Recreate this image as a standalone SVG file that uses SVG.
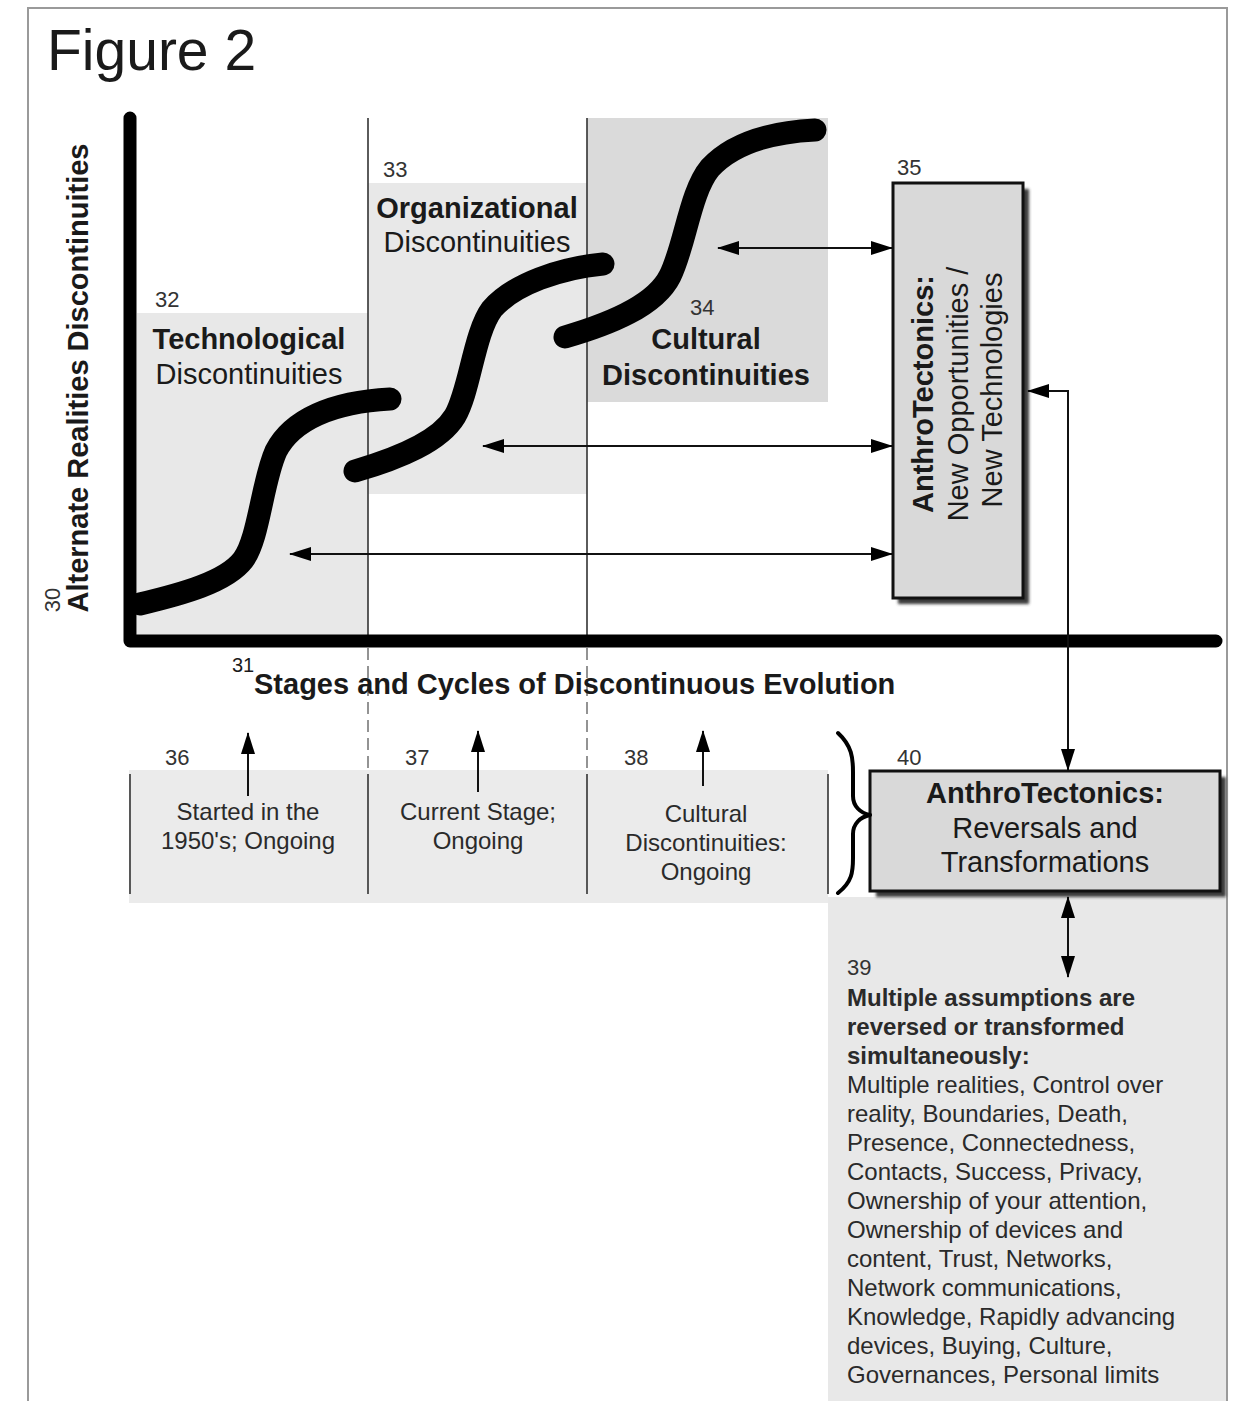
<svg xmlns="http://www.w3.org/2000/svg" width="1234" height="1401" viewBox="0 0 1234 1401">
  <style>
    text { font-family: "Liberation Sans", Arial, sans-serif; fill: #1a1a1a; }
    .num { font-size: 22px; fill: #333; }
    .big { font-size: 29px; }
    .bold { font-weight: bold; }
    .small { font-size: 24px; fill: #2a2a2a; }
    .mid { text-anchor: middle; }
    .thin { stroke: #222; stroke-width: 2; fill: none; }
    .divider { stroke: #333; stroke-width: 1.6; fill: none; }
    .dash { stroke: #666; stroke-width: 1.4; stroke-dasharray: 12 6; fill: none; }
    .curve { stroke: #000; stroke-width: 23; fill: none; stroke-linecap: round; stroke-linejoin: round; }
    .box { fill: #d9d9d9; stroke: #111; stroke-width: 3; }
    .shadow { fill: #3a3a3a; filter: url(#soft); }
    .conn { stroke: #111; stroke-width: 2; fill: none; }
  </style>
  <defs>
    <marker id="head" viewBox="0 0 22 14" refX="21" refY="7" markerWidth="22" markerHeight="14" markerUnits="userSpaceOnUse" orient="auto-start-reverse">
      <path d="M0,0 L22,7 L0,14 Z" fill="#000"/>
    </marker>
    <filter id="soft" x="-10%" y="-10%" width="120%" height="120%">
      <feGaussianBlur stdDeviation="1.5"/>
    </filter>
  </defs>

  <!-- page frame -->
  <rect x="0" y="0" width="1234" height="1401" fill="#fff"/>
  <path d="M28,1401 V8 H1227 V1401" fill="none" stroke="#9a9a9a" stroke-width="2"/>

  <text x="47" y="70" style="font-size:57px" fill="#111">Figure 2</text>

  <!-- shaded stage bands -->
  <g id="band-32">
    <rect x="137" y="313" width="231" height="328" fill="#e8e8e8"/>
    <text class="num" x="155" y="307">32</text>
    <text class="big bold mid" x="249" y="349">Technological</text>
    <text class="big mid" x="249" y="384" fill="#333">Discontinuities</text>
  </g>
  <g id="band-33">
    <rect x="368" y="183" width="219" height="311" fill="#e8e8e8"/>
    <text class="num" x="383" y="177">33</text>
    <text class="big bold mid" x="477" y="218">Organizational</text>
    <text class="big mid" x="477" y="252" fill="#333">Discontinuities</text>
  </g>
  <g id="band-34">
    <rect x="587" y="118" width="241" height="284" fill="#dadada"/>
    <text class="num" x="690" y="315">34</text>
    <text class="big bold mid" x="706" y="349">Cultural</text>
    <text class="big bold mid" x="706" y="385">Discontinuities</text>
  </g>

  <!-- stage dividers -->
  <g id="dividers">
    <line class="divider" x1="368" y1="118" x2="368" y2="641"/>
    <line class="divider" x1="587" y1="118" x2="587" y2="641"/>
    <line class="dash" x1="368" y1="648" x2="368" y2="770"/>
    <line class="dash" x1="587" y1="648" x2="587" y2="770"/>
  </g>

  <!-- S-curves -->
  <g id="curves">
    <path class="curve" d="M140,604 C182,594 226,582 243,560 C259,539 262,482 276,451 C292,420 332,402 390,399"/>
    <path class="curve" d="M355,471 C400,458 440,441 455,416 C470,390 474,333 492,309 C514,284 560,268 603,264"/>
    <path class="curve" d="M565,337 C610,324 655,306 670,276 C685,246 690,192 710,168 C734,142 775,132 815,130"/>
  </g>

  <!-- axes -->
  <g id="axes">
    <path d="M130,118 V641 H1216" fill="none" stroke="#000" stroke-width="13" stroke-linecap="round" stroke-linejoin="round"/>
    <text class="big bold mid" transform="translate(88,378) rotate(-90)">Alternate Realities Discontinuities</text>
    <text class="num mid" transform="translate(60,600) rotate(-90)">30</text>
    <text x="232" y="672" style="font-size:20px" fill="#333">31</text>
    <text class="big bold" x="254" y="694">Stages and Cycles of Discontinuous Evolution</text>
  </g>

  <!-- node 35 -->
  <g id="node-35">
    <rect class="shadow" x="898" y="189" width="131" height="415"/>
    <rect class="box" x="893" y="183" width="130" height="415"/>
    <text class="num" x="897" y="175">35</text>
    <text class="big mid" transform="translate(933,390) rotate(-90)">
      <tspan class="bold" x="0" dy="0">AnthroTectonics:</tspan>
      <tspan x="0" dy="34.5">New Opportunities /</tspan>
      <tspan x="0" dy="34.5">New Technologies</tspan>
    </text>
  </g>

  <!-- bottom stage notes -->
  <g id="notes">
    <rect x="129" y="770" width="699" height="133" fill="#ebebeb"/>
    <line class="divider" x1="130" y1="774" x2="130" y2="894"/>
    <line class="divider" x1="368" y1="774" x2="368" y2="894"/>
    <line class="divider" x1="587" y1="774" x2="587" y2="894"/>
    <line class="divider" x1="828" y1="774" x2="828" y2="894"/>
  </g>
  <g id="node-36">
    <text class="num" x="165" y="765">36</text>
    <text class="small mid" x="248" y="820">Started in the</text>
    <text class="small mid" x="248" y="849">1950's; Ongoing</text>
  </g>
  <g id="node-37">
    <text class="num" x="405" y="765">37</text>
    <text class="small mid" x="478" y="820">Current Stage;</text>
    <text class="small mid" x="478" y="849">Ongoing</text>
  </g>
  <g id="node-38">
    <text class="num" x="624" y="765">38</text>
    <text class="small mid" x="706" y="822">Cultural</text>
    <text class="small mid" x="706" y="851">Discontinuities:</text>
    <text class="small mid" x="706" y="880">Ongoing</text>
  </g>

  <!-- node 39 -->
  <g id="node-39">
    <rect x="828" y="897" width="398" height="504" fill="#e8e8e8"/>
    <text class="num" x="847" y="975">39</text>
    <text class="small bold" x="847" y="1006" fill="#1a1a1a">Multiple assumptions are</text>
    <text class="small bold" x="847" y="1035" fill="#1a1a1a">reversed or transformed</text>
    <text class="small bold" x="847" y="1064" fill="#1a1a1a">simultaneously:</text>
    <text class="small" x="847" y="1093">Multiple realities, Control over</text>
    <text class="small" x="847" y="1122">reality, Boundaries, Death,</text>
    <text class="small" x="847" y="1151">Presence, Connectedness,</text>
    <text class="small" x="847" y="1180">Contacts, Success, Privacy,</text>
    <text class="small" x="847" y="1209">Ownership of your attention,</text>
    <text class="small" x="847" y="1238">Ownership of devices and</text>
    <text class="small" x="847" y="1267">content, Trust, Networks,</text>
    <text class="small" x="847" y="1296">Network communications,</text>
    <text class="small" x="847" y="1325">Knowledge, Rapidly advancing</text>
    <text class="small" x="847" y="1354">devices, Buying, Culture,</text>
    <text class="small" x="847" y="1383">Governances, Personal limits</text>
  </g>

  <!-- node 40 -->
  <g id="node-40">
    <rect class="shadow" x="876" y="777" width="350" height="120"/>
    <rect class="box" x="870" y="771" width="350" height="120"/>
    <text class="num" x="897" y="765">40</text>
    <text class="big bold mid" x="1045" y="803">AnthroTectonics:</text>
    <text class="big mid" x="1045" y="838" fill="#222">Reversals and</text>
    <text class="big mid" x="1045" y="872" fill="#222">Transformations</text>
  </g>

  <!-- brace grouping 36-38 into 40 -->
  <g id="brace">
    <path d="M838,733 C852,746 853,758 853,772 L853,796 C853,806 860,813 870,815 C860,817 853,824 853,834 L853,858 C853,872 852,882 838,893" fill="none" stroke="#000" stroke-width="4" stroke-linecap="round" stroke-linejoin="round"/>
  </g>

  <!-- connectors -->
  <g id="connectors">
    <line class="conn" x1="718" y1="248" x2="892" y2="248" marker-start="url(#head)" marker-end="url(#head)"/>
    <line class="conn" x1="483" y1="446" x2="892" y2="446" marker-start="url(#head)" marker-end="url(#head)"/>
    <line class="conn" x1="290" y1="554" x2="892" y2="554" marker-start="url(#head)" marker-end="url(#head)"/>
    <path class="conn" d="M1028,391 H1068 V770" marker-start="url(#head)" marker-end="url(#head)"/>
    <line class="conn" x1="1068" y1="897" x2="1068" y2="977" marker-start="url(#head)" marker-end="url(#head)"/>
    <line class="conn" x1="248" y1="796" x2="248" y2="733" marker-end="url(#head)"/>
    <line class="conn" x1="478" y1="792" x2="478" y2="731" marker-end="url(#head)"/>
    <line class="conn" x1="703" y1="786" x2="703" y2="731" marker-end="url(#head)"/>
  </g>
</svg>
